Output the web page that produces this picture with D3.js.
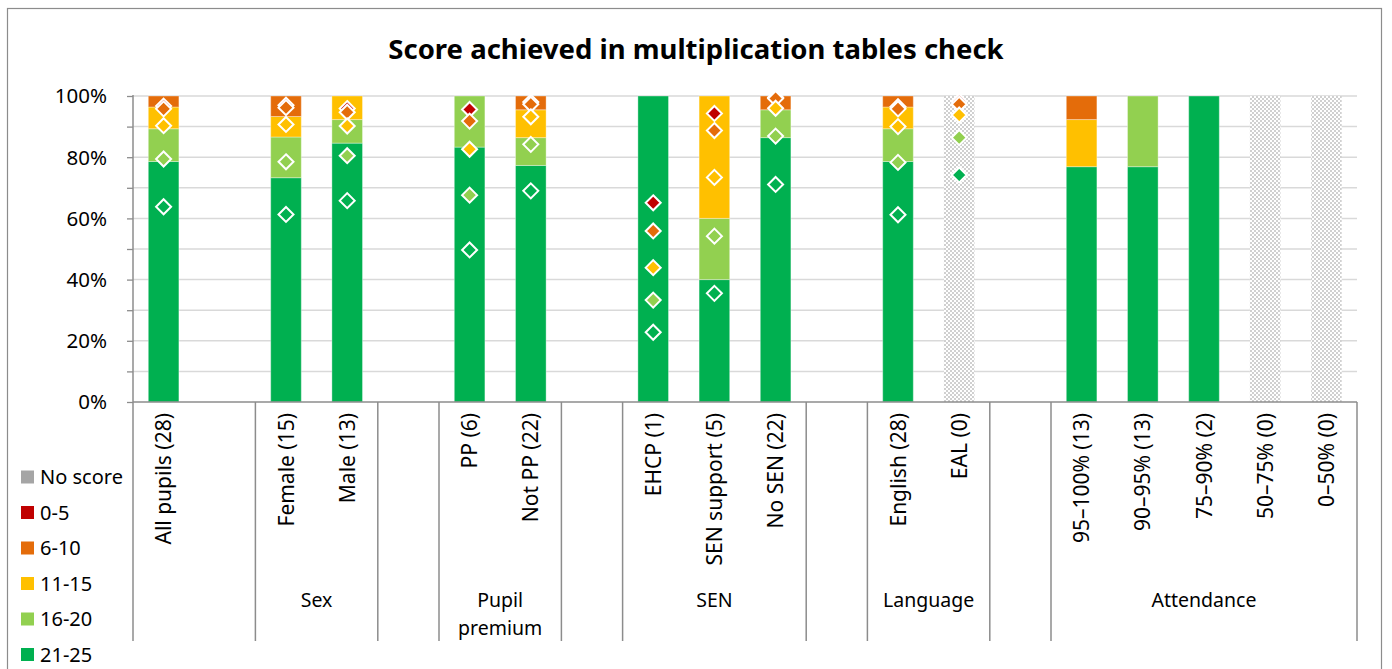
<!DOCTYPE html>
<html><head><meta charset="utf-8">
<script src="https://cdn.jsdelivr.net/npm/d3@7"></script>
<style>
html,body{margin:0;padding:0;background:#fff;}
svg text{font-family:"Noto Sans","Open Sans",sans-serif;fill:#000;}
</style></head>
<body>
<svg id="chart" width="1392" height="669"></svg>
<script>
// ---------------- DATA ----------------
const categories = ["All pupils (28)", "", "Female (15)", "Male (13)", "", "PP (6)", "Not PP (22)", "",
  "EHCP (1)", "SEN support (5)", "No SEN (22)", "", "English (28)", "EAL (0)", "",
  "95–100% (13)", "90–95% (13)", "75–90% (2)", "50–75% (0)", "0–50% (0)"];
const groupLabels = [[""], ["Sex"], [""], ["Pupil", "premium"], [""], ["SEN"], [""], ["Language"], [""], ["Attendance"]];
const groupSizes = [2, 2, 1, 2, 1, 3, 1, 2, 1, 5];
const seriesNames = ["21-25", "16-20", "11-15", "6-10", "0-5", "No score"];
const legendOrder = ["No score", "0-5", "6-10", "11-15", "16-20", "21-25"];
const seriesColors = ["#00b050", "#92d050", "#ffc000", "#e46c0a", "#c00000", "#a5a5a5"];
// share of pupils (%) in each score band
const s21_25 = [78.6, null, 73.3, 84.6, null, 83.3, 77.3, null, 100, 40, 86.4, null, 78.6, 0, null, 76.9, 76.9, 100, 0, 0];
const s16_20 = [10.7, null, 13.3, 7.7, null, 16.7, 9.1, null, 0, 20, 9.1, null, 10.7, 0, null, 0, 23.1, 0, 0, 0];
const s11_15 = [7.1, null, 6.7, 7.7, null, 0, 9.1, null, 0, 40, 0, null, 7.1, 0, null, 15.4, 0, 0, 0, 0];
const s6_10  = [3.6, null, 6.7, 0, null, 0, 4.5, null, 0, 0, 4.5, null, 3.6, 0, null, 7.7, 0, 0, 0, 0];
const s0_5   = [0, null, 0, 0, null, 0, 0, null, 0, 0, 0, null, 0, 0, null, 0, 0, 0, 0, 0];
const sNoScore = [0, null, 0, 0, null, 0, 0, null, 0, 0, 0, null, 0, 0, null, 0, 0, 0, 0, 0];
// no pupils in group (hatched placeholder)
const noPupils = [0, null, 0, 0, null, 0, 0, null, 0, 0, 0, null, 0, 100, null, 0, 0, 0, 100, 100];
// national comparison (cumulative %) shown as diamonds
const nat21_25 = [63.8, null, 61.3, 65.8, null, 49.7, 69.0, null, 22.8, 35.5, 71.1, null, 61.2, 74.2, null, null, null, null, null, null];
const nat16_20 = [79.4, null, 78.5, 80.5, null, 67.6, 84.2, null, 33.3, 54.2, 86.9, null, 78.3, 86.4, null, null, null, null, null, null];
const nat11_15 = [90.3, null, 90.7, 90.2, null, 82.6, 93.2, null, 43.9, 73.4, 96.0, null, 90.0, 93.8, null, null, null, null, null, null];
const nat6_10  = [95.8, null, 96.2, 94.7, null, 91.8, 97.3, null, 55.9, 88.7, 99.2, null, 95.8, 97.3, null, null, null, null, null, null];
const nat0_5   = [96.7, null, 97.0, 95.9, null, 95.6, 98.0, null, 65.1, 94.3, 99.5, null, 96.5, 98.2, null, null, null, null, null, null];
const yTicks = [0, 20, 40, 60, 80, 100];
const title = "Score achieved in multiplication tables check";

// ---------------- LAYOUT ----------------
const svg = d3.select("#chart");
const plot = {left: 133, right: 1357, top: 96, bottom: 402};

const seriesValues = [s21_25, s16_20, s11_15, s6_10, s0_5, sNoScore];
const natValues = [nat21_25, nat16_20, nat11_15, nat6_10, nat0_5];

const x = d3.scaleBand().domain(d3.range(categories.length)).range([plot.left, plot.right])
  .paddingInner(0.5).paddingOuter(0.25);
const y = d3.scaleLinear().domain([0, 100]).range([plot.bottom, plot.top]);

// border
svg.append("rect").attr("x", 7.5).attr("y", 8.5).attr("width", 1374).attr("height", 680)
  .attr("fill", "#fff").attr("stroke", "#8c8c8c").attr("stroke-width", 1.2);

// pattern
const defs = svg.append("defs");
const pat = defs.append("pattern").attr("id", "nodata").attr("patternUnits", "userSpaceOnUse")
  .attr("width", 4).attr("height", 4);
pat.append("rect").attr("width", 4).attr("height", 4).attr("fill", "#fff");
pat.append("rect").attr("x", 0).attr("y", 0).attr("width", 2).attr("height", 2).attr("fill", "#d0d0d0");
pat.append("rect").attr("x", 2).attr("y", 2).attr("width", 2).attr("height", 2).attr("fill", "#d0d0d0");

// title
svg.append("text").attr("x", 696).attr("y", 59).attr("text-anchor", "middle")
  .style("font-size", "27.5px").style("font-weight", "bold").text(title);

// gridlines every 10%
const minor = d3.range(0, 101, 10);
svg.append("g").selectAll("line").data(minor.filter(d => d > 0)).join("line")
  .attr("x1", plot.left).attr("x2", plot.right)
  .attr("y1", d => y(d)).attr("y2", d => y(d))
  .attr("stroke", "#d9d9d9").attr("stroke-width", 1.5);

// y axis
const yAxis = d3.axisLeft(y).tickValues(minor).tickSize(6).tickFormat("");
const yg = svg.append("g").attr("transform", `translate(${plot.left},0)`).call(yAxis);
yg.select(".domain").remove();
yg.selectAll(".tick line").attr("stroke", "#8c8c8c").attr("stroke-width", 1.3);
svg.append("line").attr("x1", plot.left).attr("x2", plot.left).attr("y1", plot.top - 1).attr("y2", plot.bottom)
  .attr("stroke", "#8c8c8c").attr("stroke-width", 1.5);
svg.append("g").selectAll("text").data(yTicks).join("text")
  .attr("x", 107).attr("y", d => y(d)).attr("dy", "0.36em").attr("text-anchor", "end")
  .style("font-size", "20.5px").text(d => d + "%");

// stacked bars
const rows = categories.map((c, i) => {
  const r = {i};
  seriesNames.forEach((s, k) => r[s] = seriesValues[k][i] || 0);
  return r;
});
const stacked = d3.stack().keys(seriesNames)(rows);
const barG = svg.append("g");
stacked.forEach((layer, k) => {
  barG.append("g").selectAll("rect").data(layer.filter(d => d[1] - d[0] > 0)).join("rect")
    .attr("x", d => x(d.data.i)).attr("width", x.bandwidth())
    .attr("y", d => y(d[1])).attr("height", d => y(d[0]) - y(d[1]))
    .attr("fill", seriesColors[k])
    .attr("stroke", "rgba(255,255,255,0.35)").attr("stroke-width", 1);
});
// hatched no-pupil bars
barG.append("g").selectAll("rect").data(noPupils.map((v, i) => ({v, i})).filter(d => d.v > 0)).join("rect")
  .attr("x", d => x(d.i)).attr("width", x.bandwidth())
  .attr("y", d => y(d.v)).attr("height", d => y(0) - y(d.v))
  .attr("fill", "url(#nodata)");

// x axis baseline
svg.append("line").attr("x1", plot.left).attr("x2", plot.right).attr("y1", plot.bottom).attr("y2", plot.bottom)
  .attr("stroke", "#8c8c8c").attr("stroke-width", 1.5);

// diamonds (drawn from 0-5 down to 21-25 so lower bands sit on top)
const diamond = "M0,-7.5L7.5,0L0,7.5L-7.5,0Z";
for (let k = natValues.length - 1; k >= 0; k--) {
  svg.append("g").selectAll("path")
    .data(natValues[k].map((v, i) => ({v, i})).filter(d => d.v != null)).join("path")
    .attr("d", diamond)
    .attr("transform", d => `translate(${x(d.i) + x.bandwidth() / 2},${y(d.v)})`)
    .attr("fill", seriesColors[k]).attr("stroke", "#fff").attr("stroke-width", 2);
}

// category labels
svg.append("g").selectAll("text").data(categories.map((c, i) => ({c, i})).filter(d => d.c)).join("text")
  .attr("transform", d => `translate(${x(d.i) + x.bandwidth() / 2},413) rotate(-90)`)
  .attr("text-anchor", "end").attr("dy", "0.36em")
  .style("font-size", "21px").text(d => d.c);

// group separators & labels
const bounds = [0];
groupSizes.forEach(s => bounds.push(bounds[bounds.length - 1] + s));
const step = x.step();
const bx = b => plot.left + b * step;
svg.append("g").selectAll("line").data(bounds).join("line")
  .attr("x1", d => bx(d)).attr("x2", d => bx(d)).attr("y1", plot.bottom).attr("y2", 641)
  .attr("stroke", "#8c8c8c").attr("stroke-width", 1.5);
const gl = svg.append("g");
groupLabels.forEach((lines, g) => {
  const cx = (bx(bounds[g]) + bx(bounds[g + 1])) / 2;
  lines.forEach((ln, j) => {
    if (!ln) return;
    gl.append("text").attr("x", cx).attr("y", 607 + j * 28).attr("text-anchor", "middle")
      .style("font-size", "19.5px").text(ln);
  });
});

// legend
const lg = svg.append("g");
legendOrder.forEach((name, j) => {
  const k = seriesNames.indexOf(name);
  const cy = 477 + j * 35.5;
  lg.append("rect").attr("x", 21).attr("y", cy - 6.5).attr("width", 13).attr("height", 13).attr("fill", seriesColors[k]);
  lg.append("text").attr("x", 40).attr("y", cy).attr("dy", "0.36em").style("font-size", "20px").text(name);
});
</script>
</body></html>
